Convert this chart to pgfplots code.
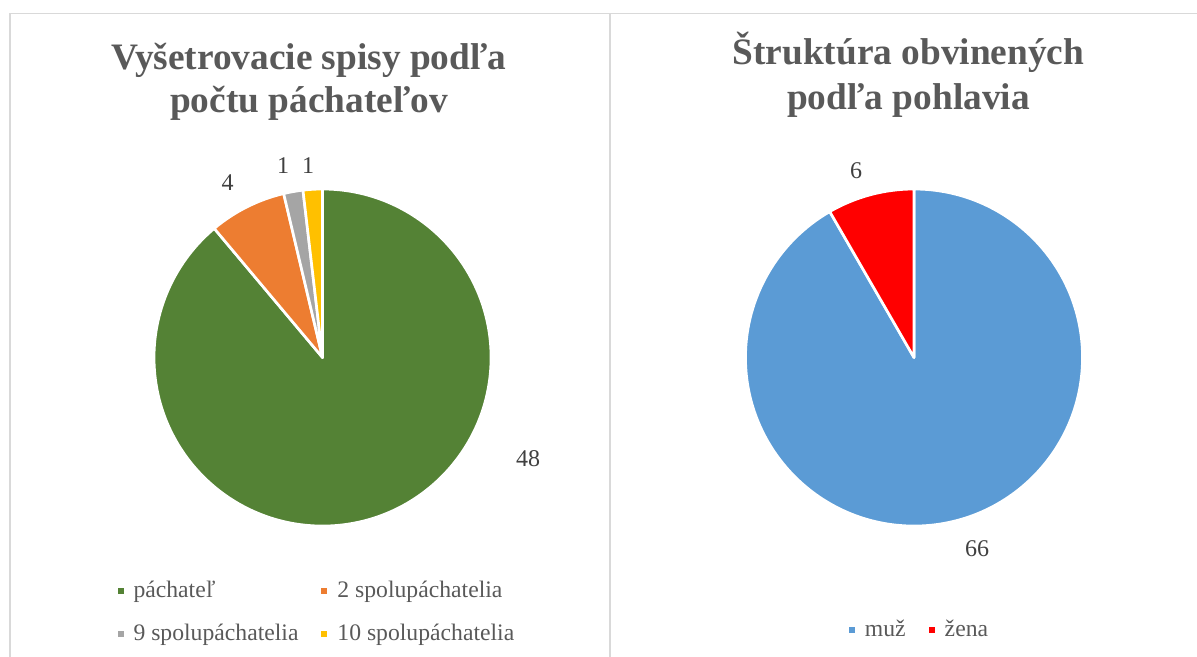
\documentclass[border=0pt]{standalone}
\usepackage{pgfplots}
\pgfplotsset{compat=1.18}
\usepackage{fontspec}
\setmainfont{Liberation Serif}

\definecolor{cgreen}{HTML}{548235}
\definecolor{corange}{HTML}{ED7D31}
\definecolor{cgray}{HTML}{A5A5A5}
\definecolor{cyellow}{HTML}{FFC000}
\definecolor{cblue}{HTML}{5B9BD5}
\definecolor{cred}{HTML}{FF0000}
\definecolor{titlegray}{HTML}{595959}
\definecolor{labgray}{HTML}{404040}
\definecolor{framegray}{HTML}{D9D9D9}

% slices clockwise from 12 o'clock; #1 = total, #2 = value/colour list
% radius 1 = one axis unit
\newcommand\pieslices[2]{%
  \gdef\cum{0}%
  \foreach \v/\col in {#2}{%
    \pgfmathsetmacro\sa{90-\cum/#1*360}%
    \pgfmathsetmacro\ea{90-(\cum+\v)/#1*360}%
    \pgfmathsetmacro\xs{cos(\sa)}%
    \pgfmathsetmacro\ys{sin(\sa)}%
    \edef\tmp{\noexpand\fill[fill=\col,draw=white,line width=2pt,line join=round]
      (axis cs:0,0) -- (axis cs:\xs,\ys) arc[start angle=\sa,end angle=\ea,radius=1] -- cycle;}%
    \tmp
    \pgfmathsetmacro\nc{\cum+\v}\xdef\cum{\nc}%
  }%
}

\pgfplotsset{
  pie/.style={
    hide axis, scale only axis, clip=false,
    width=252.75pt, height=252.75pt,
    xmin=-1, xmax=1, ymin=-1, ymax=1,
    anchor=center,
    legend image code/.code={\fill[##1,draw=none] (0pt,2.25pt) rectangle (4.5pt,6.75pt);},
    legend style={draw=none, fill=none, inner sep=0pt, outer sep=0pt,
      anchor=north west, font=\fontsize{17.75}{21}\selectfont, text=titlegray,
      row sep=14.75pt,
      cells={anchor=base west},
      nodes={inner sep=0pt, text height=13pt, text depth=4.5pt},
      /tikz/every odd column/.append style={column sep=7.5pt},
      /tikz/every even column/.append style={column sep=17.25pt}},
  },
}
\tikzset{lab/.style={font=\fontsize{18}{21}\selectfont, text=labgray}}

\begin{document}
\begin{tikzpicture}[x=0.75pt, y=0.75pt]
\useasboundingbox (0,0) rectangle (1197,657);
\clip (0,0) rectangle (1197,657);

% chart frames
\draw[framegray, line width=1.1pt] (10,643.5) rectangle (610,-10);
\draw[framegray, line width=1.1pt] (610,643.5) rectangle (1210,-10);

% titles
\begin{scope}[every node/.style={font=\fontsize{28}{33}\selectfont\bfseries, text=titlegray, anchor=base, inner sep=0pt}]
\node at (309,587) {Vyšetrovacie spisy podľa};
\node at (309,544) {počtu páchateľov};
\node at (908.5,592) {Štruktúra obvinených};
\node at (908.5,547) {podľa pohlavia};
\end{scope}

% left pie
\begin{axis}[pie, at={(241.9pt,224.6pt)},
  legend columns=2,
  legend style={at={(-0.1083,-0.1593)}}]
\pieslices{54}{48/cgreen,4/corange,1/cgray,1/cyellow}
\addlegendimage{fill=cgreen}\addlegendentry{páchateľ}
\addlegendimage{fill=corange}\addlegendentry{2 spolupáchatelia}
\addlegendimage{fill=cgray}\addlegendentry{9 spolupáchatelia}
\addlegendimage{fill=cyellow}\addlegendentry{10 spolupáchatelia}
\node[lab] at (axis cs:1.22,-0.60) {48};
\node[lab] at (axis cs:-0.563,1.039) {4};
\node[lab] at (axis cs:-0.234,1.137) {1};
\node[lab] at (axis cs:-0.086,1.137) {1};
\end{axis}

% right pie
\begin{axis}[pie, at={(685.5pt,224.6pt)},
  legend columns=2,
  legend style={at={(0.3071,-0.275)}}]
\pieslices{72}{66/cblue,6/cred}
\addlegendimage{fill=cblue}\addlegendentry{muž}
\addlegendimage{fill=cred}\addlegendentry{žena}
\node[lab] at (axis cs:0.374,-1.136) {66};
\node[lab] at (axis cs:-0.344,1.107) {6};
\end{axis}
\end{tikzpicture}
\end{document}
